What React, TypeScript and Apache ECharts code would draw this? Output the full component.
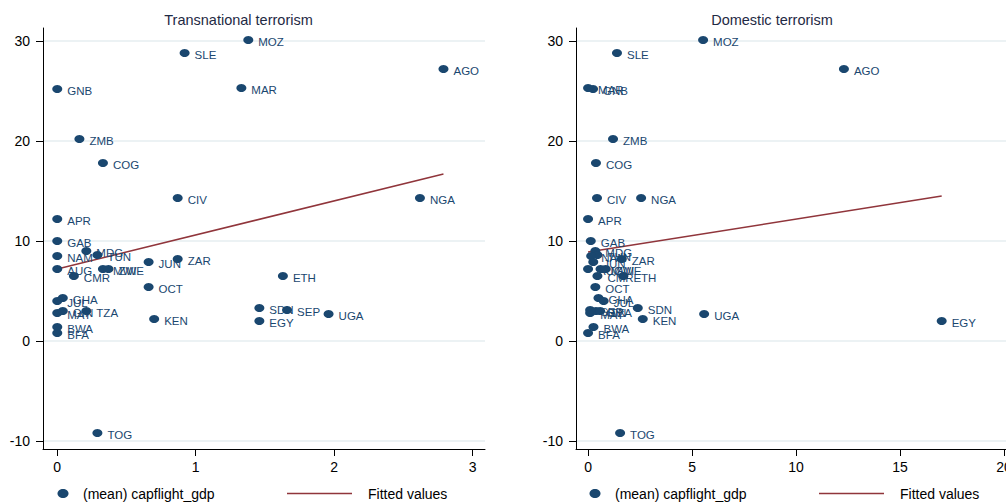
import React, { useEffect, useRef } from "react";
import * as echarts from "echarts";

const countries = ["MOZ","SLE","AGO","GNB","MAR","ZMB","COG","CIV","NGA","APR","GAB","MDG","TUN","NAM","JUN","ZAR","AUG","MWI","ZWE","CMR","ETH","OCT","GHA","JUL","MAY","GIN","TZA","SEP","SDN","KEN","EGY","UGA","BWA","BFA","TOG"];
const transnational = [1.38,0.92,2.79,0.0,1.33,0.16,0.33,0.87,2.62,0.0,0.0,0.21,0.29,0.0,0.66,0.87,0.0,0.33,0.37,0.12,1.63,0.66,0.04,0.0,0.0,0.04,0.21,1.66,1.46,0.70,1.46,1.96,0.0,0.0,0.29];
const domestic = [5.53,1.39,12.3,0.24,0.0,1.2,0.38,0.43,2.55,0.0,0.13,0.35,0.45,0.15,0.25,1.62,0.0,0.6,0.85,0.45,1.7,0.35,0.5,0.75,0.1,0.38,0.58,0.1,2.39,2.63,17.0,5.58,0.26,0.0,1.54];
const capflight = [30.1,28.8,27.2,25.2,25.3,20.2,17.8,14.3,14.3,12.2,10.0,9.0,8.6,8.5,7.9,8.2,7.2,7.2,7.2,6.5,6.5,5.4,4.3,4.0,2.8,3.0,3.0,3.1,3.3,2.2,2.0,2.7,1.4,0.8,-9.2];

const fitTransX = [0, 2.79];
const fitTransY = [7.2, 16.7];
const fitDomX = [0, 17.0];
const fitDomY = [8.9, 14.5];

const yTicks = [-10, 0, 10, 20, 30];
const xTicksTrans = [0, 1, 2, 3];
const xTicksDom = [0, 5, 10, 15, 20];

const NAVY = "#1a476f";
const MAROON = "#90353b";
const FONT = "Liberation Sans, Arial, sans-serif";

function xAxisCfg(gridIndex: number, min: number, max: number, ticks: number[]) {
  return {
    gridIndex,
    type: "value",
    min,
    max,
    axisLine: { show: true, onZero: false, lineStyle: { color: "#000", width: 1 } },
    axisTick: { show: true, length: 7, customValues: ticks, lineStyle: { color: "#000" } },
    axisLabel: { customValues: ticks, margin: 11, fontSize: 14, color: "#000", fontFamily: FONT },
    splitLine: { show: false },
  };
}

function yAxisCfg(gridIndex: number) {
  return {
    gridIndex,
    type: "value",
    min: -10.8,
    max: 31.3,
    axisLine: { show: true, onZero: false, lineStyle: { color: "#000", width: 1 } },
    axisTick: { show: true, length: 7, customValues: yTicks, lineStyle: { color: "#000" } },
    axisLabel: { customValues: yTicks, margin: 13, fontSize: 14, color: "#000", fontFamily: FONT },
    splitLine: { show: true, lineStyle: { color: "#e6eef1", width: 1.5 } },
  };
}

function scatterSeries(idx: number, xs: number[]) {
  return {
    type: "scatter",
    xAxisIndex: idx,
    yAxisIndex: idx,
    symbol: "circle",
    symbolSize: [10, 8],
    itemStyle: { color: NAVY, opacity: 1 },
    label: {
      show: true,
      position: "right",
      distance: 5,
      offset: [0, 1.5],
      formatter: (p: any) => p.data[2],
      color: NAVY,
      fontSize: 11.5,
      fontFamily: FONT,
    },
    data: xs.map((x, i) => [x, capflight[i], countries[i]]),
    z: 3,
  };
}

function lineSeries(idx: number, xs: number[], ys: number[]) {
  return {
    type: "line",
    xAxisIndex: idx,
    yAxisIndex: idx,
    symbol: "none",
    lineStyle: { color: MAROON, width: 1.5 },
    data: xs.map((x, i) => [x, ys[i]]),
    z: 2,
  };
}

function legend(ox: number) {
  return [
    { type: "ellipse", shape: { cx: ox + 63, cy: 493.5, rx: 5.5, ry: 4.5 }, style: { fill: NAVY } },
    { type: "text", x: ox + 83, y: 494, style: { text: "(mean) capflight_gdp", fill: "#000", fontSize: 14, fontFamily: FONT, verticalAlign: "middle" } },
    { type: "line", shape: { x1: ox + 287, y1: 493.5, x2: ox + 352, y2: 493.5 }, style: { stroke: MAROON, lineWidth: 1.5 } },
    { type: "text", x: ox + 368, y: 494, style: { text: "Fitted values", fill: "#000", fontSize: 14, fontFamily: FONT, verticalAlign: "middle" } },
  ];
}

export default function App() {
  const ref = useRef<HTMLDivElement>(null);
  useEffect(() => {
    document.body.style.margin = "0";
    document.body.style.overflow = "hidden";
    const chart = echarts.init(ref.current!, null, { renderer: "svg" });
    chart.setOption({
      animation: false,
      backgroundColor: "#ffffff",
      grid: [
        { left: 43, top: 28, width: 442, height: 421 },
        { left: 576, top: 28, width: 436, height: 421 },
      ],
      xAxis: [
        xAxisCfg(0, -0.103, 3.09, xTicksTrans),
        xAxisCfg(1, -0.58, 20.38, xTicksDom),
      ],
      yAxis: [yAxisCfg(0), yAxisCfg(1)],
      series: [
        lineSeries(0, fitTransX, fitTransY),
        scatterSeries(0, transnational),
        lineSeries(1, fitDomX, fitDomY),
        scatterSeries(1, domestic),
      ],
      graphic: [
        { type: "text", x: 238.5, y: 20, style: { text: "Transnational terrorism", fill: "#1f2a44", fontSize: 14.5, fontFamily: FONT, align: "center", verticalAlign: "middle" } },
        { type: "text", x: 772, y: 20, style: { text: "Domestic terrorism", fill: "#1f2a44", fontSize: 14.5, fontFamily: FONT, align: "center", verticalAlign: "middle" } },
        ...legend(0),
        ...legend(532),
      ],
    });
    return () => chart.dispose();
  }, []);
  return <div ref={ref} style={{ width: 1020, height: 502 }} />;
}
